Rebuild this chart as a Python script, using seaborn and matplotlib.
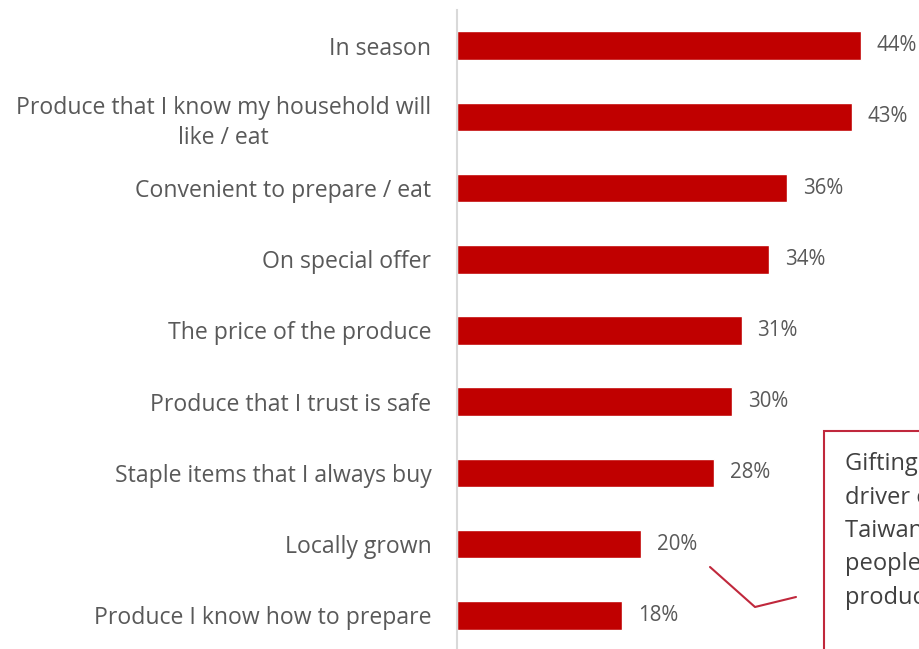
import matplotlib
matplotlib.use("Agg")
import matplotlib.pyplot as plt
import seaborn as sns
import pandas as pd
from matplotlib.patches import Rectangle
from matplotlib.lines import Line2D

categories = [
    "In season",
    "Produce that I know my household will\nlike / eat",
    "Convenient to prepare / eat",
    "On special offer",
    "The price of the produce",
    "Produce that I trust is safe",
    "Staple items that I always buy",
    "Locally grown",
    "Produce I know how to prepare",
]
values = [44, 43, 36, 34, 31, 30, 28, 20, 18]
callout_lines = [
    "Gifting is a key",
    "driver of choice in",
    "Taiwan, where many",
    "people give fresh",
    "produce as gifts",
]

sns.set_theme(style="white")
plt.rcParams["font.family"] = ["Open Sans", "DejaVu Sans"]

BAR_RED = "#C00000"
TEXT_GREY = "#595959"
LINE_RED = "#C0283C"

df = pd.DataFrame({"reason": categories, "share": values})

fig = plt.figure(figsize=(9.2, 6.49), dpi=100)
ax = fig.add_axes([457 / 920, -2 / 649, 463 / 920, 641 / 649])

sns.barplot(data=df, x="share", y="reason", orient="h", color=BAR_RED,
            saturation=1, width=0.40, ax=ax)

ax.set_xlim(0, 463 / 9.18)
ax.set_ylim(8.5, -0.5)
ax.set_xlabel("")
ax.set_ylabel("")
ax.set_xticks([])
for side in ["top", "right", "bottom"]:
    ax.spines[side].set_visible(False)
ax.spines["left"].set_color("#D9D9D9")
ax.spines["left"].set_linewidth(1.5)

ax.tick_params(axis="y", length=0, pad=18.5, labelsize=16.6, labelcolor=TEXT_GREY)
for lbl in ax.get_yticklabels():
    lbl.set_multialignment("center")
    lbl.set_linespacing(1.35)

for i, v in enumerate(values):
    ax.annotate(f"{v}%", xy=(v, i), xytext=(11.5, 0), textcoords="offset points",
                va="center", ha="left", fontsize=14.8, color=TEXT_GREY)

# Note box running off the right edge
box = Rectangle((824 / 920, -0.01), 0.2, (649 - 431) / 649 + 0.01,
                transform=fig.transFigure, fill=False,
                edgecolor=LINE_RED, linewidth=1.5, clip_on=False)
fig.patches.append(box)
for k, line in enumerate(callout_lines):
    fig.text(845 / 920, 1 - (464 + k * 33.5) / 649, line,
             va="center", ha="left", fontsize=17, color="#404040")

# Leader line from the note toward the bars
fig.lines.append(Line2D([710 / 920, 755 / 920, 796 / 920],
                        [1 - 567 / 649, 1 - 607 / 649, 1 - 597 / 649],
                        transform=fig.transFigure, color=LINE_RED,
                        linewidth=1.5))

fig.savefig("out.png", dpi=100)
